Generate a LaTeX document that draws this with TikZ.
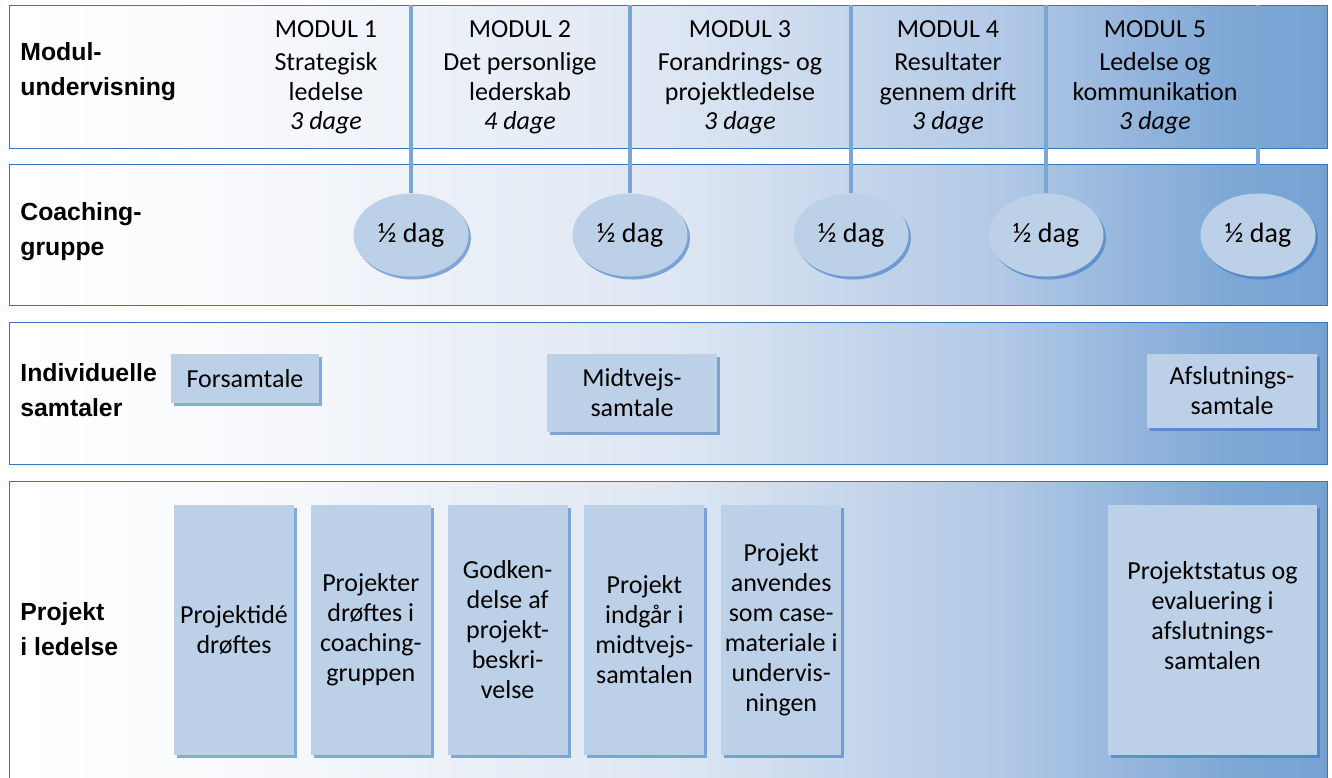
\documentclass[tikz,border=0pt]{standalone}
\usepackage{fontspec}
\setmainfont{Carlito}
\newfontfamily\labelfont{Liberation Sans}
\usetikzlibrary{shapes.geometric, shadows, positioning}

\definecolor{panelline}{RGB}{58,116,190}
\definecolor{divline}{RGB}{122,166,214}
\definecolor{boxfill}{RGB}{188,208,232}
\definecolor{shadowblue}{RGB}{58,118,194}
\definecolor{fadeA}{RGB}{250,251,253}
\definecolor{fadeB}{RGB}{222,231,243}
\definecolor{fadeC}{RGB}{178,201,230}
\definecolor{fadeD}{RGB}{126,167,213}
\definecolor{fadeE}{RGB}{118,162,210}
\pgfdeclarehorizontalshading{panelfade}{100bp}{color(0bp)=(white); color(25bp)=(white); color(32.5bp)=(fadeA); color(50bp)=(fadeB); color(62.5bp)=(fadeC); color(71.5bp)=(fadeD); color(75bp)=(fadeE); color(100bp)=(fadeE)}

\begin{document}
\begin{tikzpicture}[x=0.5pt, y=-0.5pt,
  panel/.style={draw=panelline, line width=0.7pt, shading=panelfade, anchor=north west, inner sep=0pt, minimum width=659pt},
  rowlabel/.style={anchor=north west, inner sep=0pt, align=left, font=\labelfont\bfseries\fontsize{12.4}{17.5}\selectfont},
  modtext/.style={anchor=north, inner sep=0pt, align=center, font=\fontsize{13}{14.75}\selectfont},
  dag/.style={ellipse, fill=boxfill, minimum width=57.5pt, minimum height=41.5pt, inner sep=0pt, font=\fontsize{14}{16}\selectfont,
    drop shadow={shadow xshift=1.2pt, shadow yshift=-1.5pt, fill=shadowblue, opacity=0.6}},
  talebox/.style={fill=boxfill, inner sep=0pt, align=center, font=\fontsize{13}{15}\selectfont,
    drop shadow={shadow xshift=1.5pt, shadow yshift=-1.5pt, fill=shadowblue, opacity=0.6}},
  projbox/.style={talebox, minimum width=60pt, minimum height=125pt},
  divider/.style={draw=divline, line width=2pt}]
\useasboundingbox (0,0) rectangle (1332,777);

\node[panel, minimum height=71.5pt] (p1) at (9,5) {};
\node[panel, minimum height=70.5pt] (p2) at (9,164) {};
\node[panel, minimum height=71pt] (p3) at (9,322) {};
\node[panel, minimum height=152pt] (p4) at (9,481) {};

\node[rowlabel] (l1) at (20,42) {Modul-\\undervisning};
\node[rowlabel] (l2) at (20,202) {Coaching-\\gruppe};
\node[rowlabel] (l3) at (20,363) {Individuelle\\samtaler};
\node[rowlabel] (l4) at (20,602) {Projekt\\i ledelse};

\node[modtext] (m1) at (326,20) {MODUL 1\\[2pt]Strategisk\\ledelse\\\textit{3 dage}};
\node[modtext] (m2) at (520,20) {MODUL 2\\[2pt]Det personlige\\lederskab\\\textit{4 dage}};
\node[modtext] (m3) at (740,20) {MODUL 3\\[2pt]Forandrings- og\\projektledelse\\\textit{3 dage}};
\node[modtext] (m4) at (948,20) {MODUL 4\\[2pt]Resultater\\gennem drift\\\textit{3 dage}};
\node[modtext] (m5) at (1155,20) {MODUL 5\\[2pt]Ledelse og\\kommunikation\\\textit{3 dage}};

\foreach \x [count=\i] in {411,630,851,1046,1258} {
  \coordinate (t\i) at (\x,5);
  \node[dag] (c\i) at (\x,235) {½ dag};
  \draw[divider] (t\i) -- (c\i);
}

\node[talebox, minimum width=74pt, minimum height=24.5pt] (s1) at (245,378.5) {Forsamtale};
\node[talebox, minimum width=85pt, minimum height=39pt] (s2) at (632,393) {Midtvejs-\\samtale};
\node[talebox, minimum width=85pt, minimum height=37pt] (s3) at (1232,391) {Afslutnings-\\samtale};

\node[projbox] (b1) at (234,630) {Projektidé\\drøftes};
\node[projbox, right=8pt of b1] (b2) {Projekter\\drøftes i\\coaching-\\gruppen};
\node[projbox, right=8pt of b2] (b3) {Godken-\\delse af\\projekt-\\beskri-\\velse};
\node[projbox, right=8pt of b3] (b4) {Projekt\\indgår i\\midtvejs-\\samtalen};
\node[projbox, right=8pt of b4] (b5) {Projekt\\anvendes\\som case-\\materiale i\\undervis-\\ningen};
\node[projbox, minimum width=104.5pt] (b6) at (1212.5,630) {Projektstatus og\\evaluering i\\afslutnings-\\samtalen\\~};
\end{tikzpicture}
\end{document}
